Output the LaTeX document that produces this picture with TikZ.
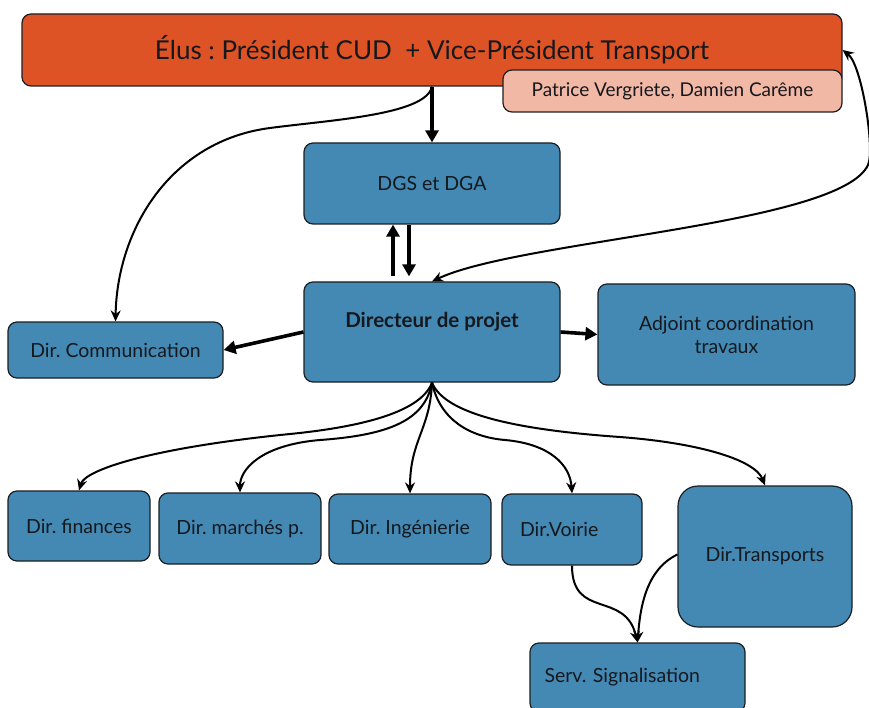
\documentclass[tikz,border=0pt]{standalone}
\usepackage{fontspec}
\setmainfont{Lato}
\usetikzlibrary{arrows.meta}
\definecolor{elusorange}{HTML}{DE5325}
\definecolor{patpink}{HTML}{F2B8A6}
\definecolor{boxblue}{HTML}{4389B4}
\definecolor{edgedark}{HTML}{1B1E22}
\definecolor{textdark}{HTML}{15181C}
\tikzset{
  box/.style={draw=edgedark, line width=1.2pt, rounded corners=9pt, fill=boxblue,
    text=textdark, font=\fontsize{19.5}{23}\selectfont, align=center, inner sep=0pt},
  thickarr/.style={line width=3.6pt, -{Triangle[length=12pt,width=13pt]}},
  thinarr/.style={line width=2pt, -{Stealth[length=11pt,width=10pt]}},
  bothArr/.style={line width=2pt, {Stealth[length=11pt,width=10pt]}-{Stealth[length=11pt,width=10pt]}},
}
\begin{document}
\frenchspacing
\begin{tikzpicture}[x=1pt,y=-1pt]
\useasboundingbox (0,0) rectangle (869,708);
\clip (0,0) rectangle (869,708);
\fill[white] (0,0) rectangle (869,708);

\node[box, fill=elusorange, minimum width=820pt, minimum height=72pt, font=\fontsize{26}{30}\selectfont] (elus) at (432,50) {Élus : Président CUD \ + Vice-Président Transport};
\node[box, fill=patpink, minimum width=339pt, minimum height=42pt, font=\fontsize{19}{22}\selectfont] (pat) at (672.5,91) {Patrice Vergriete, Damien Carême};
\node[box, minimum width=256pt, minimum height=81pt] (dgs) at (432,183.5) {DGS et DGA};
\node[box, minimum width=256pt, minimum height=100pt, text depth=24pt, font=\fontsize{20.5}{24}\selectfont\bfseries] (dir) at (432,332) {Directeur de projet};
\node[box, minimum width=257pt, minimum height=101pt] (adj) at (726.5,334.5) {Adjoint coordination\\travaux};
\node[box, minimum width=215pt, minimum height=56pt] (com) at (115.5,350) {Dir. Communication};
\node[box, minimum width=142pt, minimum height=70pt] (fin) at (79,526) {Dir. finances};
\node[box, minimum width=162pt, minimum height=71pt] (mar) at (240,528.5) {Dir. marchés p.};
\node[box, minimum width=162pt, minimum height=70pt] (ing) at (410,529) {Dir. Ingénierie};
\node[box, minimum width=140pt, minimum height=71pt, text width=104pt, align=left] (voi) at (572,529.5) {Dir.Voirie};
\node[box, minimum width=174pt, minimum height=141pt, rounded corners=20pt] (tra) at (765,556.5) {Dir.Transports};
\node[box, minimum width=215pt, minimum height=69pt, text width=186pt, align=left] (ser) at (637.5,677.5) {Serv. Signalisation};

% connectors
\draw[thickarr] (elus.south) -- (dgs.north);
\draw[thinarr] (elus.south) .. controls (426,115) and (330,120) .. (270,128)
  .. controls (170,141) and (117,230) .. (com.north);
\draw[thickarr, shorten <=5pt] ([xshift=-39pt]dir.north) -- ([xshift=-39pt]dgs.south);
\draw[thickarr, shorten >=5pt] ([xshift=-23pt]dgs.south) -- ([xshift=-23pt]dir.north);
\draw[thickarr] (dir.west) -- (com.east);
\draw[thickarr] (dir.east) -- (adj.west);
\draw[bothArr] (elus.east) .. controls (862,65) and (875,150) .. (868,165)
  .. controls (840,225) and (520,240) .. (dir.north);

\draw[thinarr] (dir.south) .. controls (420,415) and (350,428) .. (290,434)
  .. controls (150,448) and (85,470) .. (fin.north);
\draw[thinarr] (dir.south) .. controls (425,420) and (390,435) .. (320,440)
  .. controls (260,445) and (240,470) .. (mar.north);
\draw[thinarr] (dir.south) .. controls (430,430) and (410,440) .. (ing.north);
\draw[thinarr] (dir.south) .. controls (440,420) and (470,437) .. (505,440)
  .. controls (550,444) and (570,465) .. (voi.north);
\draw[thinarr] (dir.south) .. controls (445,415) and (520,430) .. (620,437)
  .. controls (700,443) and (755,460) .. (tra.north);
\draw[thinarr] (voi.south) .. controls (572,620) and (625,590) .. (ser.north);
\draw[thinarr] ([yshift=2pt]tra.west) .. controls (645,570) and (640,610) .. (ser.north);
\end{tikzpicture}
\end{document}
